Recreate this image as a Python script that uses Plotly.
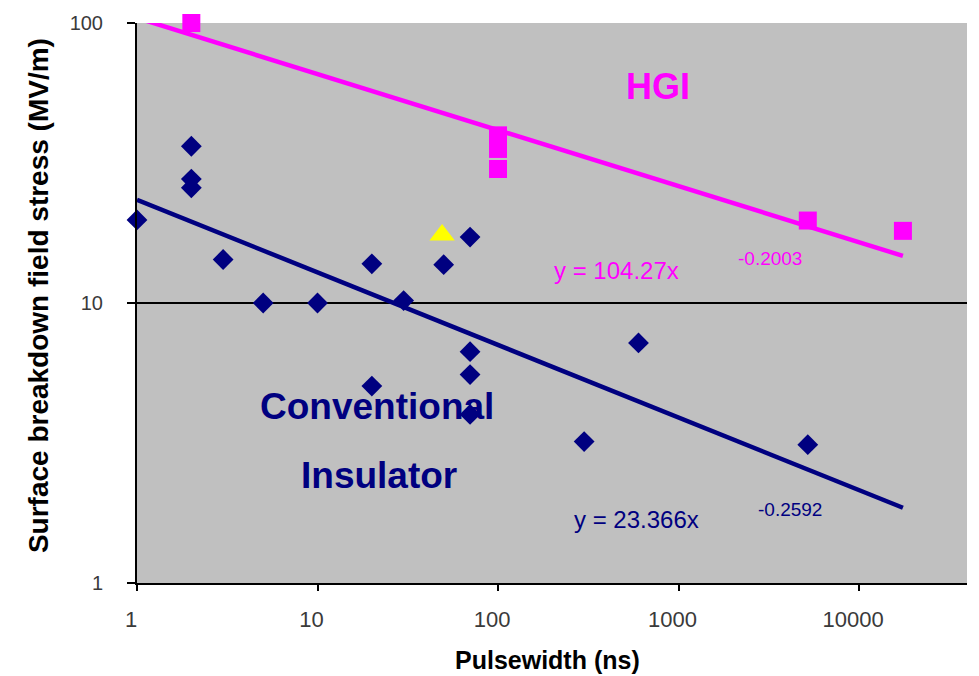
import plotly.graph_objects as go

# ---- data ----
conv_x = [1, 2, 2, 2, 3, 5, 10, 20, 20, 30, 50, 70, 70, 70, 70, 300, 600, 5200]
conv_y = [19.8, 36.3, 27.7, 25.8, 14.3, 10, 10, 13.8, 5.05, 10.2, 13.7, 17.2, 6.7, 5.55, 4.0, 3.2, 7.2, 3.12]

hgi_x = [2, 100, 100, 100, 5200, 17500]
hgi_y = [100, 39.7, 35.5, 30.1, 19.7, 18.1]

other_x = [49]
other_y = [17.5]

# power-law trendlines shown on the chart: y = a * x^b
hgi_a, hgi_b = 104.27, -0.2003
conv_a, conv_b = 23.366, -0.2592
trend_x = [1, 17500]

x_tickvals = [1, 10, 100, 1000, 10000]
x_ticktext = ["1", "10", "100", "1000", "10000"]
y_tickvals = [1, 10, 100]
y_ticktext = ["1", "10", "100"]

MAGENTA = "#FF00FF"
NAVY = "#000080"
FONT = "Liberation Sans, Arial, sans-serif"

hgi_fit = [hgi_a * x ** hgi_b for x in trend_x]
conv_fit = [conv_a * x ** conv_b for x in trend_x]

fig = go.Figure()
fig.add_trace(go.Scatter(x=trend_x, y=conv_fit, mode="lines",
                         line=dict(color=NAVY, width=4.5), hoverinfo="skip"))
fig.add_trace(go.Scatter(x=trend_x, y=hgi_fit, mode="lines",
                         line=dict(color=MAGENTA, width=4.5), hoverinfo="skip"))
fig.add_trace(go.Scatter(x=conv_x, y=conv_y, mode="markers", cliponaxis=False,
                         marker=dict(symbol="diamond", size=16, color=NAVY)))
fig.add_trace(go.Scatter(x=hgi_x, y=hgi_y, mode="markers", cliponaxis=False,
                         marker=dict(symbol="square", size=18, color=MAGENTA)))
fig.add_trace(go.Scatter(x=other_x, y=other_y, mode="markers", cliponaxis=False,
                         marker=dict(symbol="triangle-up", size=22, color="#FFFF00")))

L, R, T, B = 137, 12, 15, 93
W, H = 979, 676
PW, PH = W - L - R, H - T - B


def px(xp):
    return (xp - L) / PW


def py(yp):
    return (H - B - yp) / PH


annotations = [
    dict(text="<b>HGI</b>", x=px(658), y=py(79), font=dict(size=36, color=MAGENTA)),
    dict(text="<b>Conventional</b>", x=px(377), y=py(404), font=dict(size=37, color=NAVY)),
    dict(text="<b>Insulator</b>", x=px(379), y=py(474), font=dict(size=37, color=NAVY)),
    dict(text="y = 104.27x", x=px(616), y=py(266), font=dict(size=24, color=MAGENTA)),
    dict(text="-0.2003", x=px(770), y=py(254), font=dict(size=19, color=MAGENTA)),
    dict(text="y = 23.366x", x=px(636), y=py(519), font=dict(size=24, color=NAVY)),
    dict(text="-0.2592", x=px(790), y=py(508), font=dict(size=19, color=NAVY)),
    dict(text="<b>Surface breakdown field stress (MV/m)</b>", x=px(38), y=py(292),
         textangle=-90, font=dict(size=28, color="black")),
    dict(text="<b>Pulsewidth (ns)</b>", x=px(547), y=py(661),
         font=dict(size=25, color="black")),
]
for a in annotations:
    a.update(xref="paper", yref="paper", showarrow=False,
             xanchor="center", yanchor="middle")

fig.update_layout(
    width=W, height=H,
    margin=dict(l=L, r=R, t=T, b=B, pad=0),
    paper_bgcolor="white",
    plot_bgcolor="#C0C0C0",
    showlegend=False,
    font=dict(family=FONT),
    annotations=annotations,
)
fig.update_xaxes(type="log", range=[0, 4.598], tickvals=x_tickvals, ticktext=x_ticktext,
                 showgrid=False, zeroline=False, showline=True, linecolor="black",
                 linewidth=2, ticks="outside", ticklen=6, tickwidth=2, tickcolor="black",
                 tickfont=dict(size=22, color="#3a3a3a", family=FONT),
                 ticklabelstandoff=10, ticklabelshift=-6)
fig.update_yaxes(type="log", range=[0, 2], tickvals=y_tickvals, ticktext=y_ticktext,
                 showgrid=True, gridcolor="black", gridwidth=2, zeroline=False,
                 showline=True, linecolor="black", linewidth=2, ticks="outside",
                 ticklen=8, tickwidth=2, tickcolor="black",
                 tickfont=dict(size=20, color="#3a3a3a", family=FONT),
                 ticklabelstandoff=20)

fig.write_html("out.html")
